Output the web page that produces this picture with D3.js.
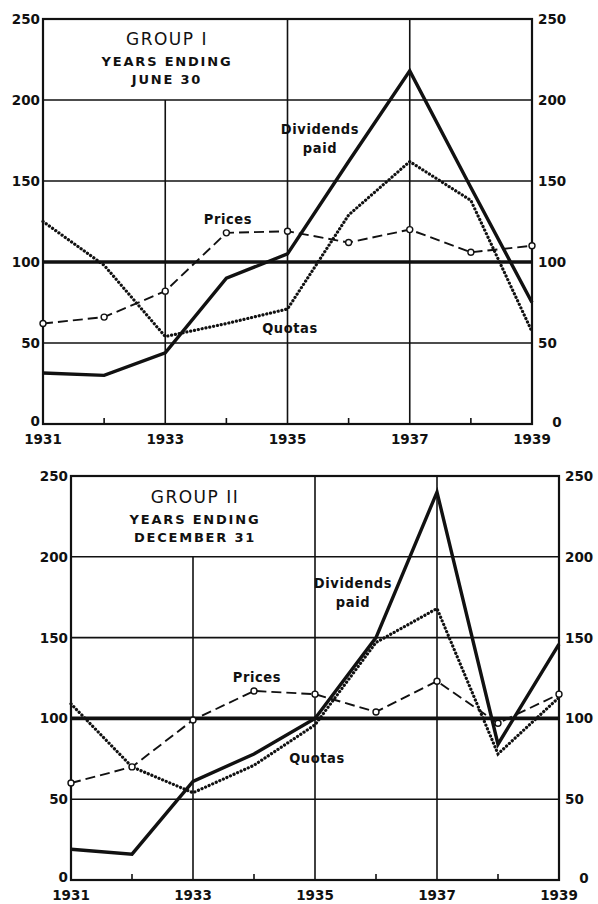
<!DOCTYPE html>
<html>
<head>
<meta charset="utf-8">
<script src="https://cdn.jsdelivr.net/npm/d3@7"></script>
<style>
  body { margin: 0; background: #fff; }
  svg { display: block; }
  text { fill: #111; }
</style>
</head>
<body>
<div id="chart"></div>
<script>
// values (index numbers)
var years = [1931, 1932, 1933, 1934, 1935, 1936, 1937, 1938, 1939]
var yTicks = [0, 50, 100, 150, 200, 250]
var yearLabels = [1931, 1933, 1935, 1937, 1939]

var g1Dividends = [31.5, 30, 44, 90, 105, 162, 218, 146, 75]
var g1Quotas = [125, 98, 54, 62, 71, 129, 162, 138, 57]
var g1Prices = [62, 66, 82, 118, 119, 112, 120, 106, 110]

var g2Dividends = [19, 16, 61, 78, 100, 150, 240, 84, 146]
var g2Quotas = [109, 70, 54, 71, 96, 147, 168, 78, 113]
var g2Prices = [60, 70, 99, 117, 115, 104, 123, 97, 115]

var g1Title = ["GROUP I", "YEARS ENDING", "JUNE 30"]
var g2Title = ["GROUP II", "YEARS ENDING", "DECEMBER 31"]

var W = 598, H = 904

var svg = d3.select("#chart")
  .append("svg")
    .attr("width", W)
    .attr("height", H)

var ink = "#111"
var numFont = "'DejaVu Sans', sans-serif"
var lblFont = "'DejaVu Sans Condensed', 'DejaVu Sans', sans-serif"

function drawPanel(p) {
  var x = d3.scaleLinear()
    .domain([1931, 1939])
    .range([p.left, p.right])
  var y = d3.scaleLinear()
    .domain([0, 250])
    .range([p.bottom, p.top])

  var g = svg.append("g")

  // horizontal grid lines
  g.selectAll("line.h")
    .data([50, 100, 150, 200])
    .enter().append("line")
      .attr("x1", x(1931)).attr("x2", x(1939))
      .attr("y1", function(d) { return y(d) }).attr("y2", function(d) { return y(d) })
      .attr("stroke", ink)
      .attr("stroke-width", function(d) { return d == 100 ? 3.6 : 1.6 })

  // vertical grid lines (1933 stops under the title box)
  g.selectAll("line.v")
    .data([1933, 1935, 1937])
    .enter().append("line")
      .attr("x1", function(d) { return x(d) }).attr("x2", function(d) { return x(d) })
      .attr("y1", function(d) { return d == 1933 ? y(200) : y(250) })
      .attr("y2", y(0))
      .attr("stroke", ink)
      .attr("stroke-width", 1.6)

  // small ticks on odd years
  g.selectAll("line.t")
    .data([1932, 1934, 1936, 1938])
    .enter().append("line")
      .attr("x1", function(d) { return x(d) }).attr("x2", function(d) { return x(d) })
      .attr("y1", y(0)).attr("y2", y(0) - 6)
      .attr("stroke", ink)
      .attr("stroke-width", 1.6)

  // frame
  g.append("rect")
    .attr("x", x(1931)).attr("y", y(250))
    .attr("width", x(1939) - x(1931)).attr("height", y(0) - y(250))
    .attr("fill", "none")
    .attr("stroke", ink)
    .attr("stroke-width", 2.2)

  // y labels both sides
  g.selectAll("text.yl")
    .data(yTicks)
    .enter().append("text")
      .attr("x", x(1931) - 3)
      .attr("y", function(d) { return d == 0 ? y(d) + 2 : y(d) + 5 })
      .attr("text-anchor", "end")
      .attr("font-family", numFont).attr("font-weight", "bold")
      .attr("font-size", 13.5)
      .text(function(d) { return d })
  g.selectAll("text.yr")
    .data(yTicks)
    .enter().append("text")
      .attr("x", function(d) { return d == 0 ? x(1939) + 25 : x(1939) + 6 })
      .attr("y", function(d) { return d == 0 ? y(d) + 3 : y(d) + 5 })
      .attr("text-anchor", function(d) { return d == 0 ? "middle" : "start" })
      .attr("font-family", numFont).attr("font-weight", "bold")
      .attr("font-size", 13.5)
      .text(function(d) { return d })

  // year labels
  g.selectAll("text.xl")
    .data(yearLabels)
    .enter().append("text")
      .attr("x", function(d) { return x(d) })
      .attr("y", y(0) + 20)
      .attr("text-anchor", "middle")
      .attr("font-family", numFont).attr("font-weight", "bold")
      .attr("font-size", 13.5)
      .text(function(d) { return d })

  var line = d3.line()
    .x(function(d, i) { return x(years[i]) })
    .y(function(d) { return y(d) })

  // quotas: dotted
  g.append("path")
    .attr("d", line(p.quotas))
    .attr("fill", "none")
    .attr("stroke", ink)
    .attr("stroke-width", 3.2)
    .attr("stroke-linecap", "round")
    .attr("stroke-dasharray", "0.1,3.8")

  // prices: dashed with open circles
  g.append("path")
    .attr("d", line(p.prices))
    .attr("fill", "none")
    .attr("stroke", ink)
    .attr("stroke-width", 1.9)
    .attr("stroke-dasharray", "10,5")
  g.selectAll("circle")
    .data(p.prices)
    .enter().append("circle")
      .attr("cx", function(d, i) { return x(years[i]) })
      .attr("cy", function(d) { return y(d) })
      .attr("r", 3)
      .attr("fill", "#fff")
      .attr("stroke", ink)
      .attr("stroke-width", 1.4)

  // dividends: heavy solid
  g.append("path")
    .attr("d", line(p.dividends))
    .attr("fill", "none")
    .attr("stroke", ink)
    .attr("stroke-width", 3.4)
    .attr("stroke-linejoin", "miter")

  // title block
  var tx = p.titleX
  g.append("text")
    .attr("x", tx).attr("y", p.titleY)
    .attr("text-anchor", "middle")
    .attr("font-family", numFont).attr("font-size", 17)
    .attr("letter-spacing", 1.5)
    .text(p.title[0])
  g.append("text")
    .attr("x", tx).attr("y", p.titleY + 21)
    .attr("text-anchor", "middle")
    .attr("font-family", numFont).attr("font-size", 13).attr("font-weight", "bold")
    .attr("letter-spacing", 1.8)
    .text(p.title[1])
  g.append("text")
    .attr("x", tx).attr("y", p.titleY + 39)
    .attr("text-anchor", "middle")
    .attr("font-family", numFont).attr("font-size", 13).attr("font-weight", "bold")
    .attr("letter-spacing", 1.8)
    .text(p.title[2])

  // series labels
  var labels = [
    {t: "Dividends", a: p.divLbl, dy: 0},
    {t: "paid", a: p.divLbl, dy: 19},
    {t: "Prices", a: p.priceLbl, dy: 0},
    {t: "Quotas", a: p.quotaLbl, dy: 0}
  ]
  g.selectAll("text.sl")
    .data(labels)
    .enter().append("text")
      .attr("x", function(d) { return d.a[0] })
      .attr("y", function(d) { return d.a[1] + d.dy })
      .attr("text-anchor", "middle")
      .attr("font-family", lblFont).attr("font-size", 14.5)
      .attr("font-weight", "bold")
      .attr("letter-spacing", 0.6)
      .text(function(d) { return d.t })
}

drawPanel({
  left: 43, right: 532, top: 19, bottom: 424,
  dividends: g1Dividends, quotas: g1Quotas, prices: g1Prices,
  title: g1Title, titleX: 167, titleY: 45,
  divLbl: [320, 134], priceLbl: [228, 224], quotaLbl: [290, 333]
})

drawPanel({
  left: 71, right: 559, top: 476, bottom: 880,
  dividends: g2Dividends, quotas: g2Quotas, prices: g2Prices,
  title: g2Title, titleX: 195, titleY: 503,
  divLbl: [353, 588], priceLbl: [257, 682], quotaLbl: [317, 763]
})
</script>
</body>
</html>
